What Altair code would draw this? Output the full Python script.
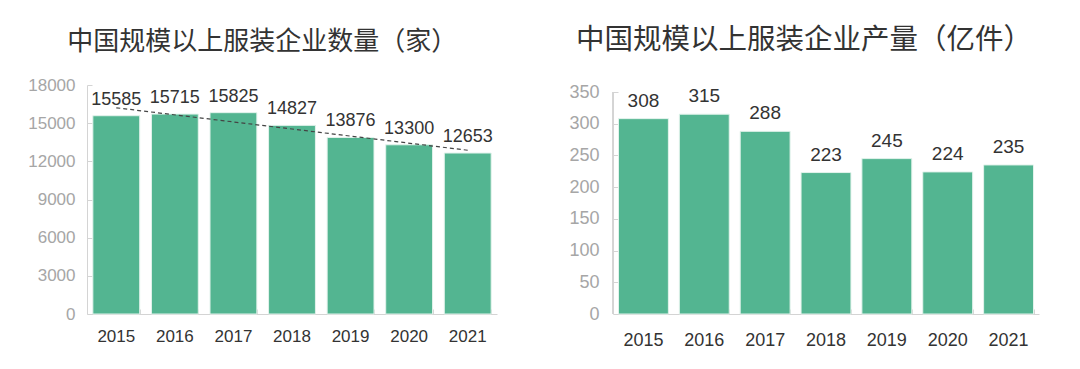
import altair as alt
import pandas as pd

years = [2015, 2016, 2017, 2018, 2019, 2020, 2021]
firms = [15585, 15715, 15825, 14827, 13876, 13300, 12653]
output = [308, 315, 288, 223, 245, 224, 235]
left_title = "中国规模以上服装企业数量（家）"
right_title = "中国规模以上服装企业产量（亿件）"
left_ticks = [0, 3000, 6000, 9000, 12000, 15000, 18000]
right_ticks = [0, 50, 100, 150, 200, 250, 300, 350]

df1 = pd.DataFrame({"year": years, "value": firms})
df2 = pd.DataFrame({"year": years, "value": output})

BAR = "#53B591"
NUM = "Liberation Sans"
CJK = "Noto Sans CJK SC"
AXIS = "#d4d4d4"


def xenc(size, pad, inner):
    return alt.X(
        "year:O", title=None,
        scale=alt.Scale(paddingInner=inner, paddingOuter=inner / 2),
        axis=alt.Axis(labelAngle=0, labelFontSize=size, labelColor="#333333",
                      labelFont=NUM, domainColor=AXIS, ticks=False,
                      labelPadding=pad),
    )


def tick_layer(df, inner, ydomain, yvalues):
    # invisible marks that only carry inward-pointing tick marks
    return alt.Chart(df).mark_point(opacity=0).encode(
        x=alt.X("year:O", title=None,
                scale=alt.Scale(paddingInner=inner, paddingOuter=inner / 2),
                axis=alt.Axis(orient="bottom", offset=-5, labels=False, domain=False,
                              ticks=True, tickBand="extent", tickSize=5,
                              tickColor=AXIS)),
        y=alt.Y("value:Q", title=None,
                scale=alt.Scale(domain=ydomain, nice=False),
                axis=alt.Axis(orient="left", offset=-5, labels=False, domain=False,
                              values=yvalues, ticks=True, tickSize=5,
                              tickColor=AXIS, grid=False)),
    )


# ---- left chart
xl = xenc(17, 14, 0.2)
yl = alt.Y("value:Q", title=None,
           scale=alt.Scale(domain=[0, 18000], nice=False),
           axis=alt.Axis(values=left_ticks, format="d", labelOverlap=False,
                         labelFontSize=17, labelColor="#a6a6a6",
                         labelFont=NUM, domainColor=AXIS, ticks=False, grid=False,
                         labelPadding=12))
base1 = alt.Chart(df1)
bars1 = base1.mark_bar(color=BAR, stroke="#e3f3ec", strokeWidth=1).encode(x=xl, y=yl)
text1 = base1.mark_text(baseline="bottom", dy=-7, fontSize=18, font=NUM,
                        color="#333333").encode(
    x=xl, y=yl, text=alt.Text("value:Q", format="d"))
trend = base1.transform_regression("year", "value", method="linear").mark_line(
    color="#444444", strokeDash=[4, 3], strokeWidth=1.2).encode(x=xl, y=yl)
left = alt.layer(
    alt.layer(bars1, trend, text1),
    tick_layer(df1, 0.2, [0, 18000], left_ticks),
).resolve_scale(x="independent", y="independent").properties(
    width=410, height=229,
    title=alt.TitleParams(left_title, font=CJK, fontSize=26, fontWeight="normal",
                          color="#333333", anchor="middle", frame="bounds",
                          offset=21))

# ---- right chart (plot box as tall as the left one; axis line drawn to 350 only)
RMAX = 350 * 229 / 222
xr = xenc(18, 17, 0.18)
yr_scale = alt.Scale(domain=[0, RMAX], nice=False)
yr_axis = alt.Axis(values=right_ticks, format="d", labelOverlap=False,
                   labelFontSize=18, labelColor="#a6a6a6",
                   labelFont=NUM, domain=False, ticks=False, grid=False,
                   labelPadding=14)
yr = alt.Y("value:Q", title=None, scale=yr_scale, axis=yr_axis)
base2 = alt.Chart(df2)
axis_line = base2.mark_rule(color=AXIS, strokeWidth=1).encode(
    x=alt.value(0),
    y=alt.YDatum(0, type="quantitative", title=None, scale=yr_scale, axis=yr_axis),
    y2=alt.Y2Datum(right_ticks[-1]))
bars2 = base2.mark_bar(color=BAR, stroke="#e3f3ec", strokeWidth=1).encode(x=xr, y=yr)
text2 = base2.mark_text(baseline="bottom", dy=-8, fontSize=19, font=NUM,
                        color="#333333").encode(
    x=xr, y=yr, text=alt.Text("value:Q", format="d"))
right = alt.layer(
    alt.layer(bars2, axis_line, text2),
    tick_layer(df2, 0.18, [0, RMAX], right_ticks),
).resolve_scale(x="independent", y="independent").properties(
    width=426, height=229,
    title=alt.TitleParams(right_title, font=CJK, fontSize=28.5, fontWeight="normal",
                          color="#333333", anchor="middle", frame="bounds",
                          offset=29))

chart = alt.hconcat(left, right, spacing=71).properties(
    padding={"left": 19, "top": 17, "right": 5, "bottom": 5},
    background="white",
).configure_view(stroke=None).configure_axis(labelOverlap=False)

chart.save("out.html", embed_options={"renderer": "svg", "actions": False})
